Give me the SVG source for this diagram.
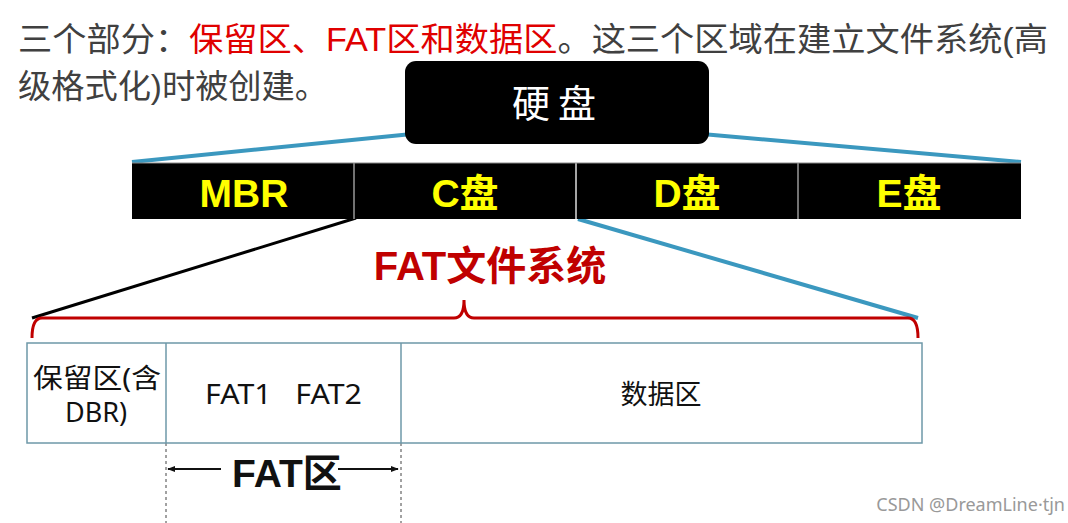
<svg xmlns="http://www.w3.org/2000/svg" width="1068" height="523" viewBox="0 0 1068 523">
<defs>
<style>
.cjk{font-family:"Liberation Sans","Noto Sans CJK SC",sans-serif}
.seg{font-family:"Liberation Sans","Noto Sans CJK SC",sans-serif;font-weight:bold;font-size:39px;fill:#ffff00;text-anchor:middle}
.cell{font-family:"Noto Sans","Noto Sans CJK SC",sans-serif;font-size:27px;fill:#111}
.blue{stroke:#3b98bf;stroke-width:4;fill:none}
</style>
<marker id="ah" viewBox="0 0 10 10" refX="9" refY="5" markerWidth="8" markerHeight="8" orient="auto-start-reverse" markerUnits="userSpaceOnUse">
<path d="M0,1 L10,5 L0,9 Z" fill="#111"/>
</marker>
</defs>
<rect width="1068" height="523" fill="#fff"/>
<g id="caption" class="cjk" font-size="33" fill="#404040">
<text x="18" y="51" textLength="1030" lengthAdjust="spacingAndGlyphs">三个部分：<tspan fill="#e00000">保留区、FAT区和数据区</tspan>。这三个区域在建立文件系统(高</text>
<text x="18" y="98" textLength="310" lengthAdjust="spacingAndGlyphs">级格式化)时被创建。</text>
</g>
<g id="connectors">
<line class="blue" x1="132" y1="162" x2="412" y2="134"/>
<line class="blue" x1="702" y1="134" x2="1021" y2="162"/>
<line x1="356" y1="218" x2="32" y2="318" stroke="#000" stroke-width="3"/>
<line class="blue" x1="578" y1="219" x2="918" y2="318" stroke-width="3"/>
<path d="M32,338 Q32,318 42,318 L454,318 Q464,318 464,300 Q464,318 474,318 L908,318 Q918,318 918,338" fill="none" stroke="#c00000" stroke-width="3"/>
<line x1="166" y1="443" x2="166" y2="523" stroke="#444" stroke-width="1" stroke-dasharray="3,3"/>
<line x1="401" y1="443" x2="401" y2="523" stroke="#444" stroke-width="1" stroke-dasharray="3,3"/>
<line x1="221" y1="469" x2="168" y2="469" stroke="#111" stroke-width="2" marker-end="url(#ah)"/>
<line x1="338" y1="469" x2="398" y2="469" stroke="#111" stroke-width="2" marker-end="url(#ah)"/>
</g>
<g id="disk">
<rect x="405" y="61" width="304" height="83" rx="11" fill="#000"/>
<text x="558" y="117" class="cjk" font-size="38" fill="#fff" text-anchor="middle" letter-spacing="8">硬盘</text>
</g>
<g id="partitions">
<rect x="132" y="163" width="889" height="56" fill="#000"/>
<line x1="354" y1="163" x2="354" y2="219" stroke="#999" stroke-width="1.5"/>
<line x1="576" y1="163" x2="576" y2="219" stroke="#ddd" stroke-width="1.5"/>
<line x1="798" y1="163" x2="798" y2="219" stroke="#999" stroke-width="1.5"/>
<line x1="132" y1="163" x2="1021" y2="163" stroke="#888" stroke-width="1"/>
<text class="seg" x="244" y="207">MBR</text>
<text class="seg" x="465" y="207">C盘</text>
<text class="seg" x="687" y="207">D盘</text>
<text class="seg" x="909" y="207">E盘</text>
</g>
<g id="fs-label">
<text x="490" y="280" class="cjk" font-size="40" font-weight="bold" fill="#c00000" text-anchor="middle">FAT文件系统</text>
</g>
<g id="layout">
<rect x="27" y="343" width="895" height="100" fill="#fff" stroke="#6e98a8" stroke-width="1.5"/>
<line x1="166" y1="343" x2="166" y2="443" stroke="#6e98a8" stroke-width="1.5"/>
<line x1="401" y1="343" x2="401" y2="443" stroke="#6e98a8" stroke-width="1.5"/>
<text class="cell" x="33" y="388" textLength="128" lengthAdjust="spacingAndGlyphs">保留区(含</text>
<text class="cell" x="96" y="422" text-anchor="middle">DBR)</text>
<text class="cell" x="205" y="404" font-size="29" textLength="157" lengthAdjust="spacingAndGlyphs" xml:space="preserve">FAT1   FAT2</text>
<text class="cell" x="661" y="404" font-size="29" text-anchor="middle">数据区</text>
</g>
<g id="fat-area">
<text x="287" y="487" class="cjk" font-size="39" font-weight="bold" fill="#111" text-anchor="middle">FAT区</text>
</g>
<text x="1065" y="511" font-family="'Noto Sans',sans-serif" font-size="18" fill="#999" text-anchor="end">CSDN @DreamLine·tjn</text>
</svg>
